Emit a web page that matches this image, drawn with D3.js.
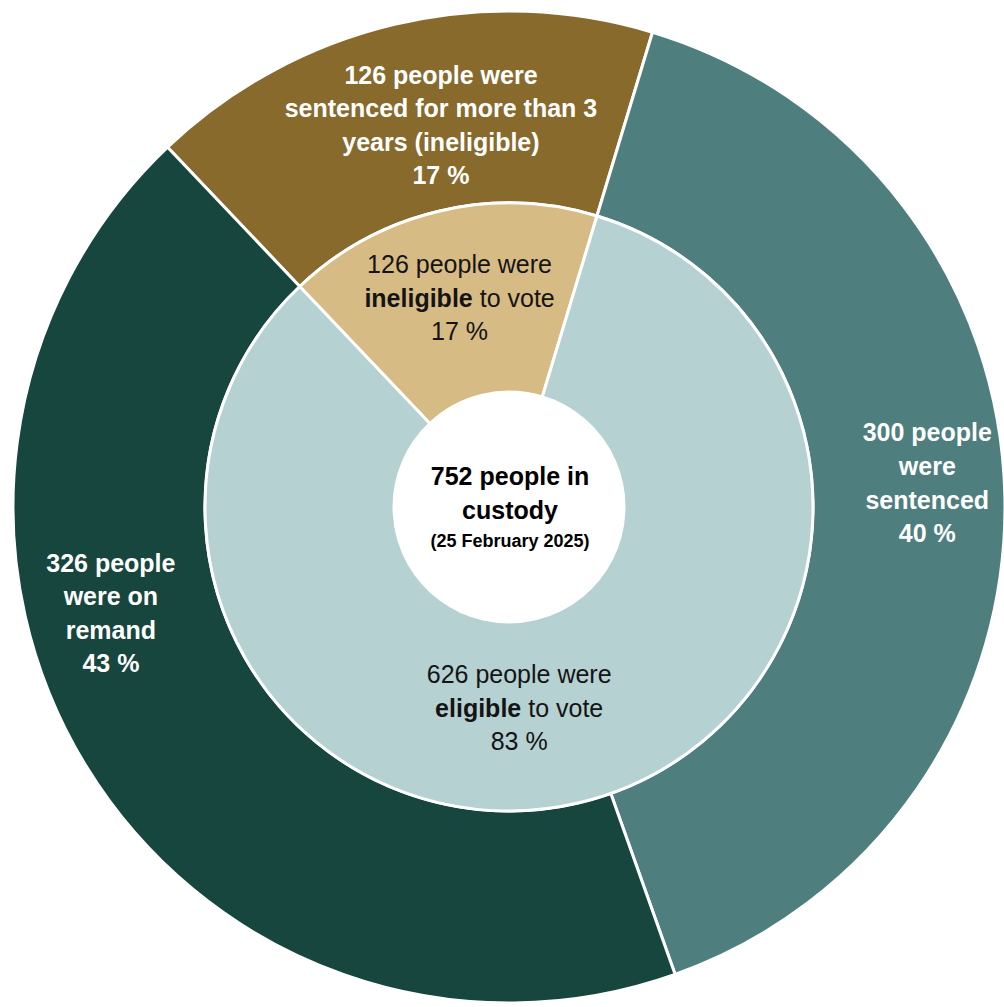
<!DOCTYPE html>
<html>
<head>
<meta charset="utf-8">
<script src="https://cdn.jsdelivr.net/npm/d3@7"></script>
<style>
  html, body { margin: 0; padding: 0; background: #ffffff; }
  svg { display: block; }
  text { font-family: "Liberation Sans", Arial, Helvetica, sans-serif; }
</style>
</head>
<body>
<svg id="chart" width="1004" height="1007"></svg>
<script>
// Custody population, split two ways
const outerCategories = ["Sentenced for more than 3 years", "Sentenced", "On remand"];
const outerValues = [126, 300, 326];
const innerCategories = ["Ineligible to vote", "Eligible to vote"];
const innerValues = [126, 626];
const snapshotDate = "25 February 2025";

// Label wording for each ring (numbers are filled in from the values)
const outerLabelLines = [
  [v => `${v} people were`, () => "sentenced for more than 3", () => "years (ineligible)"],
  [v => `${v} people`, () => "were", () => "sentenced"],
  [v => `${v} people`, () => "were on", () => "remand"]
];
const innerLabelLines = [
  [[[v => `${v} people were`, false]], [["ineligible", true], [" to vote", false]]],
  [[[v => `${v} people were`, false]], [["eligible", true], [" to vote", false]]]
];

// ---- layout ----
const cx = 509, cy = 507;
const rHole = 115, rMid = 304, rOuter = 496;
const startDeg = -43.5;
const lineH = 33.6;
const fontSize = 25;
const outerColors = ["#876A2C", "#4E7E7E", "#16463E"];
const innerColors = ["#D6BB85", "#B5D1D2"];
// label anchor points (polar: degrees clockwise from top, radius)
const outerLabelSpots = [[-10.1, 388], [86.7, 419], [255.1, 412]];
const innerLabelSpots = [[-13.3, 215], [177.1, 201]];

const total = d3.sum(outerValues);
const pct = v => Math.round(v / total * 100) + " %";
const rad = d => d * Math.PI / 180;

const svg = d3.select("#chart");
const g = svg.append("g").attr("transform", `translate(${cx},${cy})`);

const pie = d3.pie().sort(null).value(d => d)
  .startAngle(rad(startDeg)).endAngle(rad(startDeg) + 2 * Math.PI);

const outerArc = d3.arc().innerRadius(rMid).outerRadius(rOuter);
const innerArc = d3.arc().innerRadius(rHole).outerRadius(rMid);

g.selectAll("path.outer")
  .data(pie(outerValues))
  .join("path")
  .attr("class", "outer")
  .attr("d", outerArc)
  .attr("fill", (d, i) => outerColors[i])
  .attr("stroke", "#ffffff")
  .attr("stroke-width", 3)
  .attr("stroke-linejoin", "round");

g.selectAll("path.inner")
  .data(pie(innerValues))
  .join("path")
  .attr("class", "inner")
  .attr("d", innerArc)
  .attr("fill", (d, i) => innerColors[i])
  .attr("stroke", "#ffffff")
  .attr("stroke-width", 3)
  .attr("stroke-linejoin", "round");

function polar([deg, r]) {
  return [r * Math.sin(rad(deg)), -r * Math.cos(rad(deg))];
}

// outer ring labels: white, bold
outerValues.forEach((v, i) => {
  const lines = outerLabelLines[i].map(f => f(v)).concat([pct(v)]);
  const [x, y] = polar(outerLabelSpots[i]);
  const t = g.append("text")
    .attr("text-anchor", "middle")
    .attr("dominant-baseline", "central")
    .attr("fill", "#ffffff")
    .attr("font-weight", "bold")
    .attr("font-size", fontSize);
  lines.forEach((ln, k) => {
    t.append("tspan")
      .attr("x", x)
      .attr("y", y + (k - (lines.length - 1) / 2) * lineH)
      .text(ln);
  });
});

// inner ring labels: dark, regular with bold key word
innerValues.forEach((v, i) => {
  const lines = innerLabelLines[i].concat([[[pct(v), false]]]);
  const [x, y] = polar(innerLabelSpots[i]);
  lines.forEach((parts, k) => {
    const t = g.append("text")
      .attr("x", x)
      .attr("y", y + (k - (lines.length - 1) / 2) * lineH)
      .attr("text-anchor", "middle")
      .attr("dominant-baseline", "central")
      .attr("fill", "#141414")
      .attr("font-size", fontSize);
    parts.forEach(([s, bold]) => {
      t.append("tspan")
        .attr("font-weight", bold ? "bold" : "normal")
        .text(typeof s === "function" ? s(v) : s);
    });
  });
});

// centre caption
const centre = g.append("text")
  .attr("text-anchor", "middle")
  .attr("dominant-baseline", "central")
  .attr("fill", "#000000")
  .attr("font-weight", "bold");
centre.append("tspan").attr("x", 1).attr("y", -31).attr("font-size", fontSize)
  .text(`${total} people in`);
centre.append("tspan").attr("x", 1).attr("y", 3).attr("font-size", fontSize)
  .text("custody");
centre.append("tspan").attr("x", 1).attr("y", 34).attr("font-size", 18)
  .text(`(${snapshotDate})`);
</script>
</body>
</html>
